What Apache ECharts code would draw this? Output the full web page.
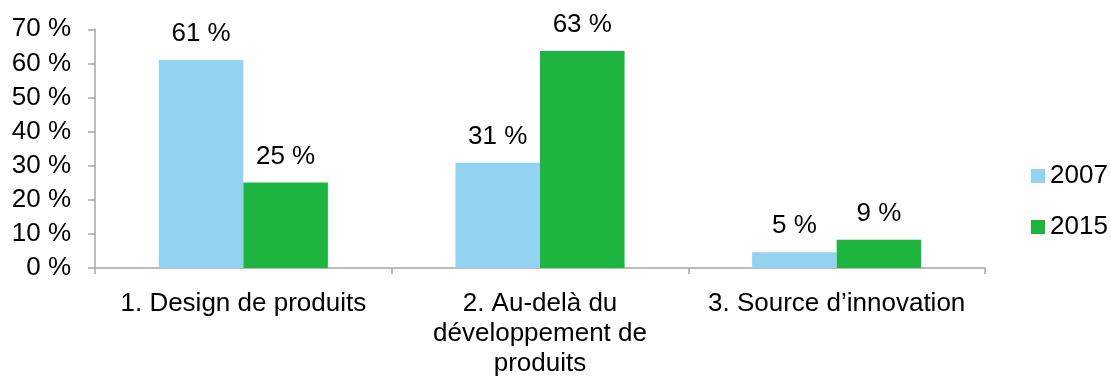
<!DOCTYPE html>
<html>
<head>
<meta charset="utf-8">
<script src="https://cdn.jsdelivr.net/npm/echarts@6/dist/echarts.min.js"></script>
<style>
  html, body { margin: 0; padding: 0; background: #fff; }
  #chart { width: 1111px; height: 379px; }
</style>
</head>
<body>
<div id="chart"></div>
<script>
// categories (axis labels, wrapped as in the original)
var categories = ['1. Design de produits', '2. Au-delà du\ndéveloppement de\nproduits', '3. Source d\u2019innovation'];
var seriesNames = ['2007', '2015'];
// values
var values2007 = [61, 30.9, 4.6];
var values2015 = [25.1, 63.6, 8.3];
// printed labels above the bars
var labels2007 = ['61 %', '31 %', '5 %'];
var labels2015 = ['25 %', '63 %', '9 %'];
var yTicks = [0, 10, 20, 30, 40, 50, 60, 70];

var font = 'Liberation Sans, Arial, sans-serif';
var axisColor = '#a6a6a6';

var chart = echarts.init(document.getElementById('chart'));
chart.setOption({
  animation: false,
  textStyle: { fontFamily: font },
  grid: {
    left: 95,
    right: 126,
    top: 29.3,
    bottom: 109.7,
    containLabel: false
  },
  legend: {
    orient: 'vertical',
    left: 1026,
    top: 158,
    itemWidth: 14,
    itemHeight: 14,
    itemGap: 25,
    icon: 'rect',
    textStyle: { fontSize: 26, color: '#000', lineHeight: 26 },
    data: seriesNames
  },
  xAxis: {
    type: 'category',
    data: categories,
    axisLine: { lineStyle: { color: axisColor, width: 1.5 } },
    axisTick: { show: true, length: 6, lineStyle: { color: axisColor, width: 1.5 } },
    axisLabel: { fontSize: 26, color: '#000', lineHeight: 30, margin: 21, interval: 0 }
  },
  yAxis: {
    type: 'value',
    min: yTicks[0],
    max: yTicks[yTicks.length - 1],
    interval: 10,
    splitLine: { show: false },
    axisLine: { show: true, lineStyle: { color: axisColor, width: 1.5 } },
    axisTick: { show: true, length: 7, lineStyle: { color: axisColor, width: 1.5 } },
    axisLabel: { fontSize: 26, color: '#000', margin: 24, formatter: '{value} %' }
  },
  series: [{
    name: seriesNames[0],
    type: 'bar',
    data: values2007,
    barCategoryGap: '43%',
    barGap: '0%',
    itemStyle: { color: '#92d3f2' },
    label: {
      show: true,
      position: 'top',
      distance: 13,
      fontSize: 26,
      color: '#000',
      formatter: function (p) { return labels2007[p.dataIndex]; }
    }
  }, {
    name: seriesNames[1],
    type: 'bar',
    data: values2015,
    barCategoryGap: '43%',
    barGap: '0%',
    itemStyle: { color: '#1db440' },
    label: {
      show: true,
      position: 'top',
      distance: 13,
      fontSize: 26,
      color: '#000',
      formatter: function (p) { return labels2015[p.dataIndex]; }
    }
  }]
});
</script>
</body>
</html>
